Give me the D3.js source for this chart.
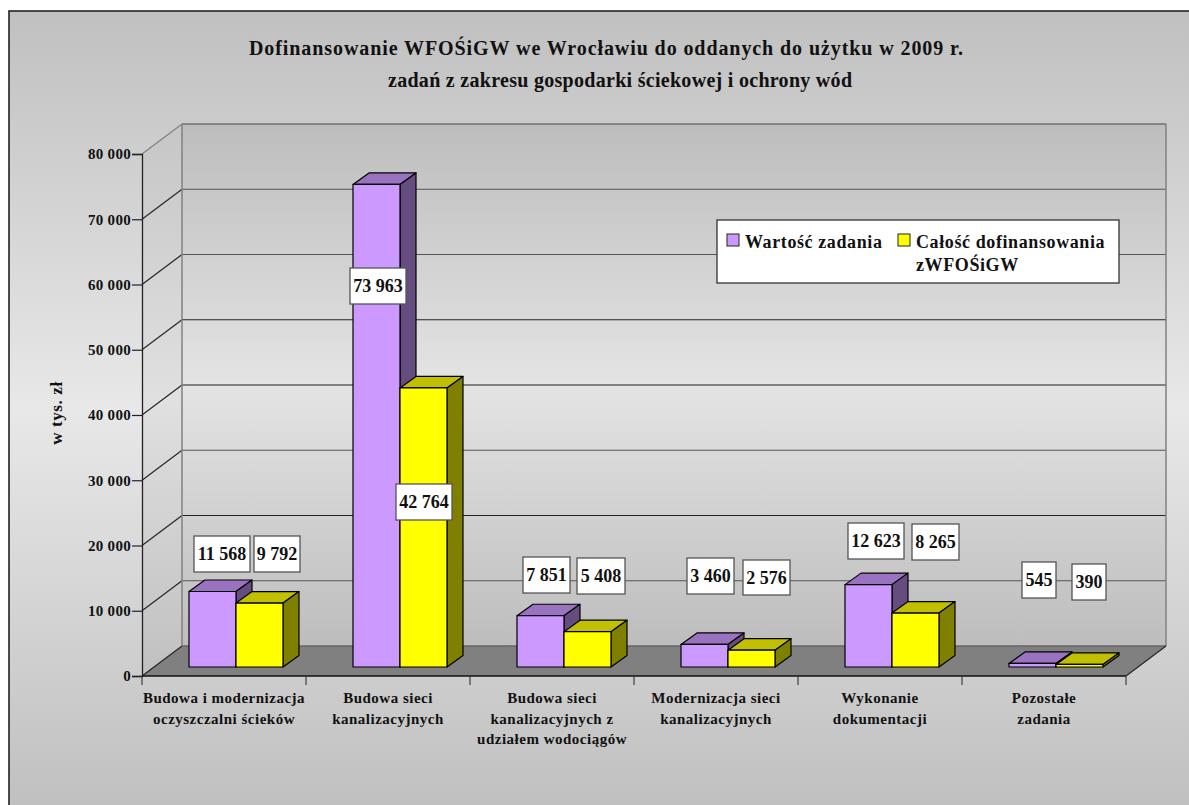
<!DOCTYPE html>
<html><head><meta charset="utf-8">
<script src="https://cdnjs.cloudflare.com/ajax/libs/d3/7.8.5/d3.min.js"></script>
<style>html,body{margin:0;padding:0;background:#fff}svg{display:block}text{font-family:"Liberation Serif",serif;font-weight:bold;fill:#111}</style>
</head><body><svg id="c" width="1189" height="805"></svg>
<script>
const titleLines = ["Dofinansowanie WFOŚiGW we Wrocławiu do oddanych do użytku w 2009 r.","zadań z zakresu gospodarki ściekowej i ochrony wód"];
const categories = ["Budowa i modernizacja|oczyszczalni ścieków","Budowa sieci|kanalizacyjnych","Budowa sieci|kanalizacyjnych z|udziałem wodociągów","Modernizacja sieci|kanalizacyjnych","Wykonanie|dokumentacji","Pozostałe|zadania"];
const seriesNames = ["Wartość zadania","Całość dofinansowania"];
const wartosc = [11568,73963,7851,3460,12623,545];
const dofinansowanie = [9792,42764,5408,2576,8265,390];
const yTicks = [0,10000,20000,30000,40000,50000,60000,70000,80000];
const axisTitle = "w tys. zł";

// hand-placed data-label boxes: [left, top, width, height] per series
const labelBoxesA = [[194,536,56,36],[350,268,56,36],[523,557,47,36],[687,558,47,36],[848,523,56,36],[1022,562,34,36]];
const labelBoxesB = [[254,536,46,36],[396,484,56,36],[577,558,48,36],[743,560,47,35],[912,524,47,36],[1072,564,34,36]];

const svg = d3.select("#c");
const defs = svg.append("defs");
function grad(id,y1,y2,stops){
  const g=defs.append("linearGradient").attr("id",id).attr("gradientUnits","userSpaceOnUse").attr("x1",0).attr("x2",0).attr("y1",y1).attr("y2",y2);
  stops.forEach(s=>g.append("stop").attr("offset",s[0]).attr("stop-color",s[1]));
}
grad("bg",11,805,[[0,"#c0c0c0"],[0.5,"#e8e8e8"],[1,"#c0c0c0"]]);
grad("wall",124,646,[[0,"#bdbdbd"],[0.5,"#e4e4e4"],[1,"#bdbdbd"]]);
grad("side",124,676,[[0,"#c6c6c6"],[0.5,"#e0e0e0"],[1,"#c0c0c0"]]);

const fmt = v => d3.format(",")(v).replace(/,/g," ");
const x0 = d3.scaleBand().domain(categories).range([142,1126]);
const x1 = d3.scaleBand().domain(seriesNames).range([0,94]);
const y = d3.scaleLinear().domain([0,80000]).range([676,154]);
const wallDx=40, wallDy=-30, barOffX=12, barOffY=-9, barDx=16, barDy=-11.5;

svg.append("rect").attr("x",9).attr("y",11).attr("width",1190).attr("height",810).attr("fill","url(#bg)").attr("stroke","#222").attr("stroke-width",1.6);

const plot = svg.append("g");
const [xL,xR]=x0.range();
const yB=y(0), yT=y(80000);
plot.append("polygon").attr("points",[[xL,yB],[xL+wallDx,yB+wallDy],[xL+wallDx,yT+wallDy],[xL,yT]].join(" ")).attr("fill","url(#side)");
plot.append("rect").attr("x",xL+wallDx).attr("y",yT+wallDy).attr("width",xR-xL).attr("height",yB-yT).attr("fill","url(#wall)");
plot.append("polygon").attr("points",[[xL,yB],[xL+wallDx,yB+wallDy],[xR+wallDx,yB+wallDy],[xR,yB]].join(" ")).attr("fill","#808080");

// gridlines
const gridV = yTicks.filter(d=>d>0);
plot.selectAll("line.g").data(gridV).join("line").attr("class","g")
  .attr("x1",xL+wallDx).attr("x2",xR+wallDx).attr("y1",d=>y(d)+wallDy).attr("y2",d=>y(d)+wallDy)
  .attr("stroke",d=>d===80000?"#707070":(d===50000||d===40000||d===20000?"#222":"#555")).attr("stroke-width",d=>d===80000?1.6:1.2);
plot.selectAll("line.d").data(yTicks).join("line").attr("class","d")
  .attr("x1",xL).attr("x2",xL+wallDx).attr("y1",d=>y(d)).attr("y2",d=>y(d)+wallDy)
  .attr("stroke",d=>d===80000?"#808080":"#222").attr("stroke-width",1.1);
plot.append("line").attr("x1",xL+wallDx).attr("x2",xL+wallDx).attr("y1",yT+wallDy).attr("y2",yB+wallDy).attr("stroke","#808080").attr("stroke-width",1.5);
plot.append("line").attr("x1",xR+wallDx).attr("x2",xR+wallDx).attr("y1",yT+wallDy).attr("y2",yB+wallDy).attr("stroke","#808080").attr("stroke-width",1.5);
plot.append("line").attr("x1",xL+wallDx).attr("x2",xR+wallDx).attr("y1",yB+wallDy).attr("y2",yB+wallDy).attr("stroke","#666").attr("stroke-width",1.5);
plot.append("line").attr("x1",xR).attr("x2",xR+wallDx).attr("y1",yB).attr("y2",yB+wallDy).attr("stroke","#222").attr("stroke-width",1.1);

// bars
const palette = {[seriesNames[0]]:["#cc99ff","#9a73c0","#664d80"],[seriesNames[1]]:["#ffff00","#c0c000","#808000"]};
const seriesValues = [wartosc,dofinansowanie];
const barW = x1.bandwidth();
categories.forEach((c,i)=>{
  seriesNames.forEach((s,k)=>{
    const v=seriesValues[k][i];
    const xa=x0(c)+x0.bandwidth()/2+barOffX-barW+x1(s), xb=xa+barW;
    const ya=y(v)+barOffY, yb=y(0)+barOffY;
    const g=plot.append("g").attr("stroke","#000").attr("stroke-width",1.2).attr("stroke-linejoin","round");
    g.append("polygon").attr("points",[[xa,ya],[xa+barDx,ya+barDy],[xb+barDx,ya+barDy],[xb,ya]].join(" ")).attr("fill",palette[s][1]);
    g.append("polygon").attr("points",[[xb,ya],[xb+barDx,ya+barDy],[xb+barDx,yb+barDy],[xb,yb]].join(" ")).attr("fill",palette[s][2]);
    g.append("rect").attr("x",xa).attr("y",ya).attr("width",barW).attr("height",yb-ya).attr("fill",palette[s][0]);
  });
});

// axes
const axL = d3.axisLeft(y).tickValues(yTicks).tickFormat(fmt).tickSize(10).tickPadding(1);
const gy=svg.append("g").attr("transform",`translate(${xL},0)`).call(axL);
gy.select(".domain").attr("stroke","#222").attr("stroke-width",1.3);
gy.selectAll(".tick line").attr("stroke","#222").attr("stroke-width",1.2);
gy.selectAll(".tick text").attr("font-family","Liberation Serif").attr("font-size",15).attr("font-weight","bold").attr("fill","#111").style("letter-spacing","0.3px");

const tickPos=[...categories.map(c=>x0(c)),xR];
const axB=svg.append("g");
axB.append("line").attr("x1",xL).attr("x2",xR).attr("y1",yB).attr("y2",yB).attr("stroke","#111").attr("stroke-width",1.4);
axB.selectAll("line.t").data(tickPos).join("line").attr("class","t").attr("x1",d=>d).attr("x2",d=>d).attr("y1",yB).attr("y2",yB+9).attr("stroke","#333").attr("stroke-width",1.1);
const xl=svg.append("g").selectAll("text").data(categories).join("text")
  .attr("text-anchor","middle").attr("font-size",15).style("letter-spacing","0.5px")
  .attr("transform",d=>`translate(${x0(d)+x0.bandwidth()/2},703)`);
xl.selectAll("tspan").data(d=>d.split("|")).join("tspan").attr("x",0).attr("y",(d,i)=>i*20.5).text(d=>d);

// value labels
[labelBoxesA,labelBoxesB].forEach((boxes,k)=>{
  boxes.forEach((b,i)=>{
    const g=svg.append("g");
    g.append("rect").attr("x",b[0]).attr("y",b[1]).attr("width",b[2]).attr("height",b[3]).attr("fill","#fff").attr("stroke","#555").attr("stroke-width",1.3);
    g.append("text").attr("x",b[0]+b[2]/2).attr("y",b[1]+23.5).attr("text-anchor","middle").attr("font-size",18).text(fmt(seriesValues[k][i]));
  });
});

// title
const titleX=[249,388], titleLen=[714,464];
svg.append("g").selectAll("text").data(titleLines).join("text").attr("x",(d,i)=>titleX[i]).attr("y",(d,i)=>55+i*32).attr("font-size",20)
  .attr("textLength",(d,i)=>titleLen[i]).attr("lengthAdjust","spacing").text(d=>d);
svg.append("text").attr("transform","translate(62,413) rotate(-90)").attr("text-anchor","middle").attr("font-size",17).style("letter-spacing","0.6px").text(axisTitle);

// legend
const lg=svg.append("g");
lg.append("rect").attr("x",717).attr("y",220).attr("width",402).attr("height",63).attr("fill","#fff").attr("stroke","#333").attr("stroke-width",1.3);
[[727,745],[898,916]].forEach((p,k)=>{
  lg.append("rect").attr("x",p[0]).attr("y",234).attr("width",12).attr("height",12).attr("fill",palette[seriesNames[k]][0]).attr("stroke","#222").attr("stroke-width",1);
  lg.append("text").attr("x",p[1]).attr("y",247.5).attr("font-size",18).style("letter-spacing","0.6px").text(seriesNames[k]);
});
lg.append("text").attr("x",916).attr("y",271).attr("font-size",18).style("letter-spacing","0.6px").text("zWFOŚiGW");
</script></body></html>
